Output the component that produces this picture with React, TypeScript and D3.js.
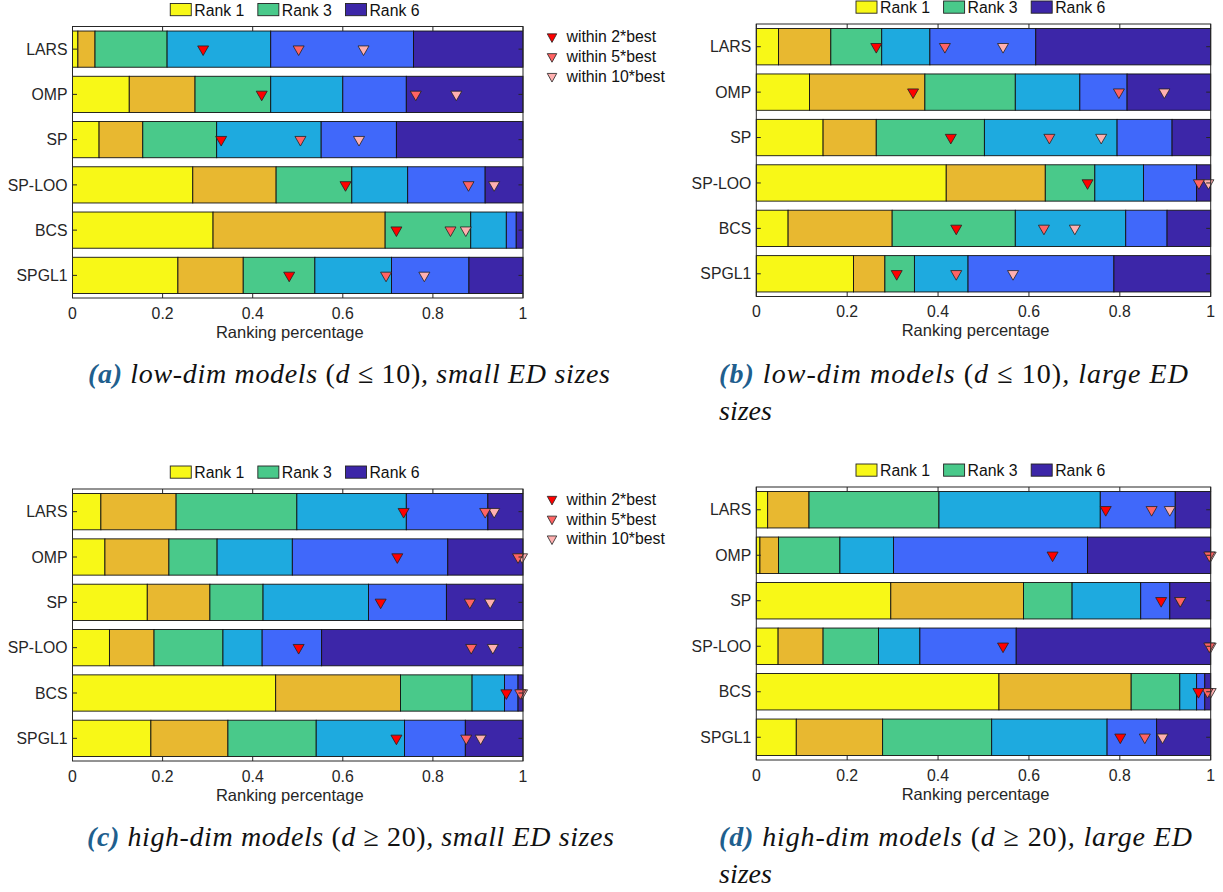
import React from "react";
import * as d3 from "d3";

// ---------- data ----------
const METHODS = ["LARS", "OMP", "SP", "SP-LOO", "BCS", "SPGL1"];
const RANK_KEYS = ["r1", "r2", "r3", "r4", "r5", "r6"];
const RANK_COLORS = ["#F8F817", "#E8B830", "#49C98A", "#1EAADF", "#4068FA", "#3C26A8"];
const LEGEND_RANKS = [
  { label: "Rank 1", idx: 0 },
  { label: "Rank 3", idx: 2 },
  { label: "Rank 6", idx: 5 },
];
const X_TICKS = [0, 0.2, 0.4, 0.6, 0.8, 1];
const X_TICK_LABELS = ["0", "0.2", "0.4", "0.6", "0.8", "1"];
const X_LABEL = "Ranking percentage";
const MARKER_LABELS = ["within 2*best", "within 5*best", "within 10*best"];
const MARKER_COLORS = ["#FF0000", "#FF6363", "#FFB0B0"];

// share of each rank (1..6) per method
const SHARES_A = [
  [0.012, 0.038, 0.160, 0.230, 0.317, 0.243],
  [0.126, 0.146, 0.168, 0.160, 0.141, 0.259],
  [0.059, 0.097, 0.164, 0.232, 0.167, 0.281],
  [0.267, 0.185, 0.168, 0.124, 0.172, 0.084],
  [0.312, 0.382, 0.190, 0.079, 0.022, 0.015],
  [0.234, 0.145, 0.159, 0.170, 0.172, 0.120],
];
const MARKS_A = [
  [0.290, 0.502, 0.646],
  [0.420, 0.762, 0.852],
  [0.330, 0.506, 0.636],
  [0.606, 0.879, 0.936],
  [0.719, 0.839, 0.873],
  [0.481, 0.696, 0.781],
];
const SHARES_B = [
  [0.049, 0.115, 0.112, 0.106, 0.233, 0.385],
  [0.117, 0.254, 0.199, 0.142, 0.104, 0.184],
  [0.147, 0.117, 0.238, 0.292, 0.121, 0.085],
  [0.418, 0.218, 0.109, 0.107, 0.117, 0.031],
  [0.070, 0.229, 0.271, 0.243, 0.091, 0.096],
  [0.214, 0.069, 0.065, 0.118, 0.321, 0.213],
];
const MARKS_B = [
  [0.264, 0.415, 0.543],
  [0.345, 0.798, 0.898],
  [0.428, 0.645, 0.759],
  [0.729, 0.974, 0.995],
  [0.440, 0.633, 0.701],
  [0.309, 0.440, 0.565],
];
const SHARES_C = [
  [0.063, 0.167, 0.268, 0.243, 0.181, 0.078],
  [0.072, 0.142, 0.107, 0.167, 0.345, 0.167],
  [0.166, 0.139, 0.118, 0.234, 0.173, 0.170],
  [0.082, 0.099, 0.153, 0.087, 0.132, 0.447],
  [0.451, 0.277, 0.159, 0.072, 0.030, 0.011],
  [0.174, 0.171, 0.196, 0.196, 0.135, 0.128],
];
const MARKS_C = [
  [0.735, 0.916, 0.936],
  [0.721, 0.989, 0.998],
  [0.684, 0.882, 0.927],
  [0.502, 0.885, 0.933],
  [0.963, 0.994, 0.998],
  [0.719, 0.874, 0.906],
];
const SHARES_D = [
  [0.025, 0.091, 0.286, 0.355, 0.165, 0.078],
  [0.008, 0.041, 0.135, 0.118, 0.427, 0.271],
  [0.296, 0.292, 0.107, 0.151, 0.064, 0.090],
  [0.048, 0.099, 0.122, 0.091, 0.212, 0.428],
  [0.534, 0.291, 0.107, 0.037, 0.018, 0.013],
  [0.088, 0.190, 0.240, 0.254, 0.109, 0.119],
];
const MARKS_D = [
  [0.769, 0.870, 0.910],
  [0.652, 0.997, 1.000],
  [0.891, 0.933, 0.933],
  [0.543, 0.997, 1.000],
  [0.973, 0.993, 1.000],
  [0.801, 0.855, 0.894],
];

// caption segments: [text, style] where style: L=label, I=italic, R=roman
const CAPTION_A = [["(a)", "L"], [" low-dim models ", "I"], ["(", "R"], ["d", "I"], [" ≤ 10)", "R"], [", small ED sizes", "I"]];
const CAPTION_B = [["(b)", "L"], [" low-dim models ", "I"], ["(", "R"], ["d", "I"], [" ≤ 10)", "R"], [", large ED", "I"]];
const CAPTION_B2 = [["sizes", "I"]];
const CAPTION_C = [["(c)", "L"], [" high-dim models ", "I"], ["(", "R"], ["d", "I"], [" ≥ 20)", "R"], [", small ED sizes", "I"]];
const CAPTION_D = [["(d)", "L"], [" high-dim models ", "I"], ["(", "R"], ["d", "I"], [" ≥ 20)", "R"], [", large ED", "I"]];
const CAPTION_D2 = [["sizes", "I"]];

// ---------- layout ----------
const FONT = "'Liberation Sans', Arial, Helvetica, sans-serif";
const SERIF = "'Liberation Serif', 'Times New Roman', serif";
const AXIS_COLOR = "#262626";
const FS = 15.8;

const PANELS = [
  { shares: SHARES_A, marks: MARKS_A, x0: 72.5, x1: 523, top: 26.5, bottom: 298, markerLegend: true,
    captions: [{ segs: CAPTION_A, x: 88, y: 383, w: 522 }] },
  { shares: SHARES_B, marks: MARKS_B, x0: 756.3, x1: 1210.7, top: 24, bottom: 296.5, markerLegend: false,
    captions: [{ segs: CAPTION_B, x: 719, y: 383, w: 469 }, { segs: CAPTION_B2, x: 719, y: 420, w: 0 }] },
  { shares: SHARES_C, marks: MARKS_C, x0: 72.5, x1: 523, top: 489, bottom: 761, markerLegend: true,
    captions: [{ segs: CAPTION_C, x: 87, y: 846, w: 527 }] },
  { shares: SHARES_D, marks: MARKS_D, x0: 756.3, x1: 1210.7, top: 487, bottom: 760, markerLegend: false,
    captions: [{ segs: CAPTION_D, x: 719, y: 846, w: 473 }, { segs: CAPTION_D2, x: 719, y: 883, w: 0 }] },
];

function tri(x: number, y: number, w = 11, h = 9.6) {
  return `M${x - w / 2},${y - h / 3}L${x + w / 2},${y - h / 3}L${x},${y + (2 * h) / 3}Z`;
}

function Caption({ segs, x, y, w }: any) {
  const props: any = w > 0 ? { textLength: w, lengthAdjust: "spacing" } : {};
  return (
    <text x={x} y={y} fontFamily={SERIF} fontSize={28} fill="#111" {...props} style={{ whiteSpace: "pre" }}>
      {segs.map((s: any, i: number) => (
        <tspan
          key={i}
          fontStyle={s[1] === "R" ? "normal" : "italic"}
          fontWeight={s[1] === "L" ? "bold" : "normal"}
          fill={s[1] === "L" ? "#1F5F8E" : "#111"}
        >
          {s[0]}
        </tspan>
      ))}
    </text>
  );
}

function Panel({ p }: any) {
  const x = d3.scaleLinear().domain([0, 1]).range([p.x0, p.x1]);
  const y = d3.scaleBand().domain(METHODS).range([p.top, p.bottom]).paddingInner(0.2).paddingOuter(0.1);
  const rows = METHODS.map((m, i) => {
    const r: any = { method: m };
    RANK_KEYS.forEach((k, j) => (r[k] = p.shares[i][j]));
    return r;
  });
  const series = d3.stack().keys(RANK_KEYS)(rows);
  const bw = y.bandwidth();
  const cx = (p.x0 + p.x1) / 2;
  const tick = 4.5;
  const legTop = p.top - 23;
  return (
    <g>
      {/* bars */}
      {series.map((s, si) => (
        <g key={si} fill={RANK_COLORS[si]} stroke="#111" strokeWidth={0.9}>
          {s.map((d: any, di: number) =>
            d[1] - d[0] > 0 ? (
              <rect key={di} x={x(d[0])} y={y(METHODS[di])} width={x(d[1]) - x(d[0])} height={bw} />
            ) : null
          )}
        </g>
      ))}
      {/* markers: 10x first, then 5x, then 2x on top */}
      {METHODS.map((m, i) =>
        [2, 1, 0].map((k) => (
          <path
            key={m + k}
            d={tri(x(p.marks[i][k]), (y(m) as number) + bw / 2)}
            fill={MARKER_COLORS[k]}
            stroke="#222"
            strokeWidth={0.8}
          />
        ))
      )}
      {/* axes box */}
      <rect x={p.x0} y={p.top} width={p.x1 - p.x0} height={p.bottom - p.top} fill="none" stroke={AXIS_COLOR} strokeWidth={1} />
      {X_TICKS.map((t, i) => (
        <g key={i}>
          <line x1={x(t)} x2={x(t)} y1={p.bottom} y2={p.bottom - tick} stroke={AXIS_COLOR} />
          <line x1={x(t)} x2={x(t)} y1={p.top} y2={p.top + tick} stroke={AXIS_COLOR} />
          <text x={x(t)} y={p.bottom + 20.8} textAnchor="middle" fontFamily={FONT} fontSize={FS} fill={AXIS_COLOR}>
            {X_TICK_LABELS[i]}
          </text>
        </g>
      ))}
      {METHODS.map((m) => {
        const c = (y(m) as number) + bw / 2;
        return (
          <g key={m}>
            <line x1={p.x0} x2={p.x0 + tick} y1={c} y2={c} stroke={AXIS_COLOR} />
            <line x1={p.x1} x2={p.x1 - tick} y1={c} y2={c} stroke={AXIS_COLOR} />
            <text x={p.x0 - 5} y={c} dy="0.36em" textAnchor="end" fontFamily={FONT} fontSize={FS} fill={AXIS_COLOR}>
              {m}
            </text>
          </g>
        );
      })}
      <text x={cx - 8} y={p.bottom + 39.5} textAnchor="middle" fontFamily={FONT} fontSize={16.5} fill={AXIS_COLOR}>
        {X_LABEL}
      </text>
      {/* rank legend */}
      {LEGEND_RANKS.map((l, i) => {
        const bx = cx - 127.5 + i * 87.6;
        return (
          <g key={l.label}>
            <rect x={bx} y={legTop} width={21} height={12.2} fill={RANK_COLORS[l.idx]} stroke="#222" strokeWidth={0.9} />
            <text x={bx + 24} y={legTop + 12.3} fontFamily={FONT} fontSize={FS} fill="#111">
              {l.label}
            </text>
          </g>
        );
      })}
      {/* marker legend */}
      {p.markerLegend &&
        MARKER_LABELS.map((lab, k) => {
          const ry = p.top + 10.2 + k * 19.8;
          return (
            <g key={lab}>
              <path d={tri(552, ry, 9.5, 8.6)} fill={MARKER_COLORS[k]} stroke="#222" strokeWidth={0.8} />
              <text x={566.5} y={ry} dy="0.36em" fontFamily={FONT} fontSize={FS} fill="#111">
                {lab}
              </text>
            </g>
          );
        })}
      {p.captions.map((c: any, i: number) => (
        <Caption key={i} {...c} />
      ))}
    </g>
  );
}

export default function App() {
  return (
    <svg
      width={1223}
      height={892}
      style={{ position: "absolute", left: 0, top: 0, background: "#fff" }}
      xmlns="http://www.w3.org/2000/svg"
    >
      <rect width={1223} height={892} fill="#fff" />
      {PANELS.map((p, i) => (
        <Panel key={i} p={p} />
      ))}
    </svg>
  );
}
